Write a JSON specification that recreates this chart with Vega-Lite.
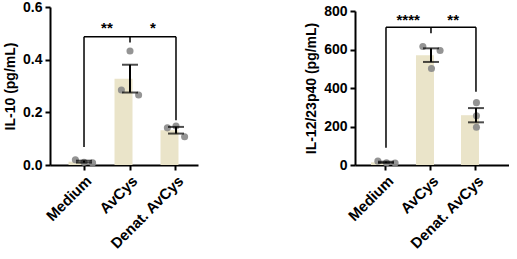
{
  "$schema": "https://vega.github.io/schema/vega-lite/v6.json",
  "padding": {"left": 3, "top": 0, "right": 0, "bottom": 0},
  "spacing": 106,
  "config": {
    "font": "Liberation Sans",
    "view": {"stroke": null},
    "axis": {
      "domain": true, "ticks": true,
      "domainColor": "black", "domainWidth": 2, "tickColor": "black", "tickWidth": 2, "tickSize": 5,
      "labelFont": "Liberation Sans", "labelFontWeight": "bold", "labelColor": "black", "labelFontSize": 14,
      "titleFont": "Liberation Sans", "titleFontWeight": "bold", "titleColor": "black", "titleFontSize": 14,
      "grid": false, "labelPadding": 3, "titlePadding": 5
    }
  },
  "datasets": {
    "il10": [
      {"group": "Medium", "slot": "L", "value": 0.020},
      {"group": "Medium", "slot": "C", "value": 0.010},
      {"group": "Medium", "slot": "R", "value": 0.008},
      {"group": "AvCys", "slot": "L", "value": 0.285},
      {"group": "AvCys", "slot": "C", "value": 0.433},
      {"group": "AvCys", "slot": "R", "value": 0.266},
      {"group": "Denat. AvCys", "slot": "L", "value": 0.141},
      {"group": "Denat. AvCys", "slot": "C", "value": 0.148},
      {"group": "Denat. AvCys", "slot": "R", "value": 0.107}
    ],
    "il12": [
      {"group": "Medium", "slot": "L", "value": 20},
      {"group": "Medium", "slot": "C", "value": 12},
      {"group": "Medium", "slot": "R", "value": 10},
      {"group": "AvCys", "slot": "L", "value": 616},
      {"group": "AvCys", "slot": "C", "value": 501},
      {"group": "AvCys", "slot": "R", "value": 595},
      {"group": "Denat. AvCys", "slot": "C", "value": 256},
      {"group": "Denat. AvCys", "slot": "C", "value": 324},
      {"group": "Denat. AvCys", "slot": "C", "value": 196}
    ],
    "hz10": [
      {"from": "Medium", "to": "AvCys", "y": 0.487},
      {"from": "AvCys", "to": "Denat. AvCys", "y": 0.487}
    ],
    "vt10": [
      {"group": "Medium", "y1": 0.487, "y2": 0.068},
      {"group": "AvCys", "y1": 0.487, "y2": 0.465},
      {"group": "Denat. AvCys", "y1": 0.487, "y2": 0.17}
    ],
    "st10": [
      {"group": "Medium", "y": 0.52, "label": "**"},
      {"group": "AvCys", "y": 0.52, "label": "*"}
    ],
    "hz12": [
      {"from": "Medium", "to": "AvCys", "y": 715},
      {"from": "AvCys", "to": "Denat. AvCys", "y": 715}
    ],
    "vt12": [
      {"group": "Medium", "y1": 715, "y2": 89},
      {"group": "AvCys", "y1": 715, "y2": 684},
      {"group": "Denat. AvCys", "y1": 715, "y2": 381}
    ],
    "st12": [
      {"group": "Medium", "y": 755, "label": "****"},
      {"group": "AvCys", "y": 755, "label": "**"}
    ]
  },
  "hconcat": [
    {
      "width": 148,
      "height": 158,
      "encoding": {
        "x": {"field": "group", "type": "nominal", "sort": ["Medium", "AvCys", "Denat. AvCys"],
              "scale": {"domain": ["Medium", "AvCys", "Denat. AvCys"], "paddingInner": 0.326, "paddingOuter": 0.272, "align": 0.74},
              "axis": {"title": null, "labelAngle": -45, "labelFontSize": 15, "domain": true, "domainColor": "black", "domainWidth": 2, "ticks": true, "tickColor": "black", "tickWidth": 2, "tickSize": 5}}
      },
      "layer": [
        {
          "data": {"name": "il10"},
          "mark": {"type": "bar", "color": "#EAE4C9"},
          "encoding": {
            "y": {"aggregate": "mean", "field": "value", "type": "quantitative", "title": "IL-10 (pg/mL)",
                  "scale": {"domain": [0, 0.6]},
                  "axis": {"values": [0, 0.2, 0.4, 0.6], "format": ".1f"}}
          }
        },
        {
          "data": {"name": "il10"},
          "mark": {"type": "point", "filled": true, "color": "#888888", "opacity": 0.9, "size": 50},
          "encoding": {
            "xOffset": {"field": "slot", "type": "nominal", "scale": {"domain": ["L", "C", "R"], "paddingInner": 0, "paddingOuter": 0.8}},
            "y": {"field": "value", "type": "quantitative", "title": "IL-10 (pg/mL)", "axis": {"values": [0, 0.2, 0.4, 0.6], "format": ".1f"}}
          }
        },
        {
          "data": {"name": "il10"},
          "mark": {"type": "errorbar", "extent": "stderr", "color": "black", "thickness": 2,
                   "ticks": {"size": 16, "thickness": 2, "color": "black"}},
          "encoding": {"y": {"field": "value", "type": "quantitative", "title": "IL-10 (pg/mL)", "axis": {"values": [0, 0.2, 0.4, 0.6], "format": ".1f"}}}
        },
        {
          "data": {"name": "hz10"},
          "mark": {"type": "rule", "color": "black", "strokeWidth": 1.5},
          "encoding": {
            "x": {"field": "from", "type": "nominal"},
            "x2": {"field": "to"},
            "y": {"field": "y", "type": "quantitative", "title": "IL-10 (pg/mL)", "axis": {"values": [0, 0.2, 0.4, 0.6], "format": ".1f"}}
          }
        },
        {
          "data": {"name": "vt10"},
          "mark": {"type": "rule", "color": "black", "strokeWidth": 1.5},
          "encoding": {
            "y": {"field": "y1", "type": "quantitative", "title": "IL-10 (pg/mL)", "axis": {"values": [0, 0.2, 0.4, 0.6], "format": ".1f"}},
            "y2": {"field": "y2"}
          }
        },
        {
          "data": {"name": "st10"},
          "mark": {"type": "text", "fontWeight": "bold", "fontSize": 15, "color": "black", "baseline": "middle"},
          "encoding": {
            "x": {"field": "group", "type": "nominal", "bandPosition": 1.24},
            "y": {"field": "y", "type": "quantitative", "title": "IL-10 (pg/mL)", "axis": {"values": [0, 0.2, 0.4, 0.6], "format": ".1f"}},
            "text": {"field": "label"}
          }
        }
      ]
    },
    {
      "width": 154,
      "height": 158,
      "encoding": {
        "x": {"field": "group", "type": "nominal", "sort": ["Medium", "AvCys", "Denat. AvCys"],
              "scale": {"domain": ["Medium", "AvCys", "Denat. AvCys"], "paddingInner": 0.333, "paddingOuter": 0.378, "align": 0.47},
              "axis": {"title": null, "labelAngle": -45, "labelFontSize": 15, "domain": true, "domainColor": "black", "domainWidth": 2, "ticks": true, "tickColor": "black", "tickWidth": 2, "tickSize": 5}}
      },
      "layer": [
        {
          "data": {"name": "il12"},
          "mark": {"type": "bar", "color": "#EAE4C9"},
          "encoding": {
            "y": {"aggregate": "mean", "field": "value", "type": "quantitative", "title": "IL-12/23p40 (pg/mL)",
                  "scale": {"domain": [0, 800], "range": [158, 4]},
                  "axis": {"values": [0, 200, 400, 600, 800]}}
          }
        },
        {
          "data": {"name": "il12"},
          "mark": {"type": "point", "filled": true, "color": "#888888", "opacity": 0.9, "size": 50},
          "encoding": {
            "xOffset": {"field": "slot", "type": "nominal", "scale": {"domain": ["L", "C", "R"], "paddingInner": 0, "paddingOuter": 0.75}},
            "y": {"field": "value", "type": "quantitative", "title": "IL-12/23p40 (pg/mL)", "axis": {"values": [0, 200, 400, 600, 800]}}
          }
        },
        {
          "data": {"name": "il12"},
          "mark": {"type": "errorbar", "extent": "stderr", "color": "black", "thickness": 2,
                   "ticks": {"size": 16, "thickness": 2, "color": "black"}},
          "encoding": {"y": {"field": "value", "type": "quantitative", "title": "IL-12/23p40 (pg/mL)", "axis": {"values": [0, 200, 400, 600, 800]}}}
        },
        {
          "data": {"name": "hz12"},
          "mark": {"type": "rule", "color": "black", "strokeWidth": 1.5},
          "encoding": {
            "x": {"field": "from", "type": "nominal"},
            "x2": {"field": "to"},
            "y": {"field": "y", "type": "quantitative", "title": "IL-12/23p40 (pg/mL)", "axis": {"values": [0, 200, 400, 600, 800]}}
          }
        },
        {
          "data": {"name": "vt12"},
          "mark": {"type": "rule", "color": "black", "strokeWidth": 1.5},
          "encoding": {
            "y": {"field": "y1", "type": "quantitative", "title": "IL-12/23p40 (pg/mL)", "axis": {"values": [0, 200, 400, 600, 800]}},
            "y2": {"field": "y2"}
          }
        },
        {
          "data": {"name": "st12"},
          "mark": {"type": "text", "fontWeight": "bold", "fontSize": 15, "color": "black", "baseline": "middle"},
          "encoding": {
            "x": {"field": "group", "type": "nominal", "bandPosition": 1.24},
            "y": {"field": "y", "type": "quantitative", "title": "IL-12/23p40 (pg/mL)", "axis": {"values": [0, 200, 400, 600, 800]}},
            "text": {"field": "label"}
          }
        }
      ]
    }
  ]
}
